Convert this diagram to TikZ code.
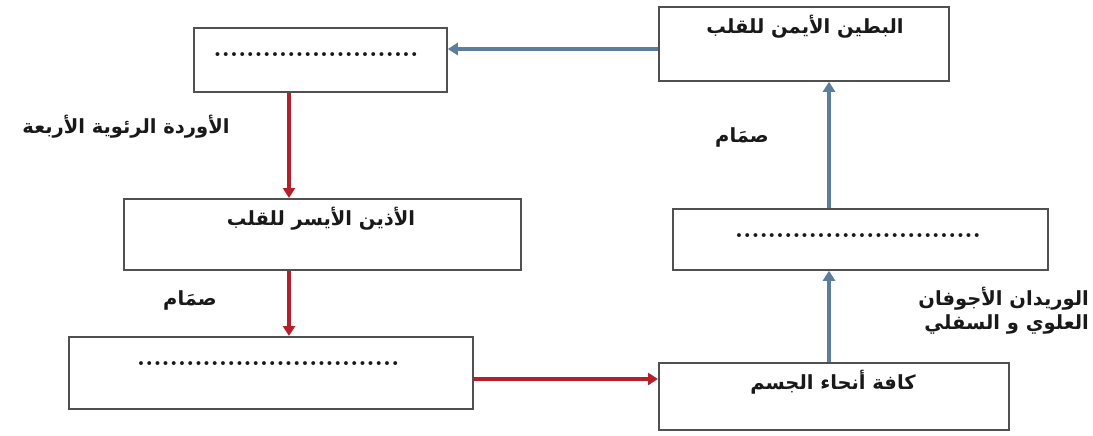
\documentclass[tikz,border=0pt]{standalone}
\usepackage{fontspec}
\usetikzlibrary{arrows.meta,calc}
\TeXXeTstate=1
\newfontfamily\arabicfont[Script=Arabic]{DejaVu Sans}
\definecolor{boxline}{HTML}{505050}
\definecolor{redline}{HTML}{B3202B}
\definecolor{blueline}{HTML}{5A7E9C}
\newcommand{\ar}[1]{{\arabicfont\bfseries\beginR #1\endR}}
\newcommand{\dotrow}[1]{\makebox[#1]{\leaders\hbox to 8.2pt{\hss.\hss}\hfill}}
\tikzset{
  box/.style={draw=boxline, line width=1.8pt, anchor=north west, inner sep=0pt},
  txt/.style={font=\fontsize{19.5}{22}\selectfont, inner sep=0pt, text=black!90},
  dots/.style={font=\fontsize{27}{28}\selectfont\bfseries, inner sep=0pt, text=black!90},
  redarrow/.style={draw=redline, line width=3.4pt, -{Triangle[width=12pt,length=10pt]}},
  bluearrow/.style={draw=blueline, line width=3.4pt, -{Triangle[width=12pt,length=10pt]}}
}
\begin{document}
\begin{tikzpicture}[x=1pt,y=-1pt]
\useasboundingbox[fill=white] (0,0) rectangle (1093,436);
% boxes
\node[box, minimum width=253pt, minimum height=64pt] (A) at (193,27) {};
\node[box, minimum width=290pt, minimum height=74pt] (B) at (658,6) {};
\node[box, minimum width=397pt, minimum height=71pt] (C) at (123,198) {};
\node[box, minimum width=404pt, minimum height=72pt] (D) at (68,336) {};
\node[box, minimum width=350pt, minimum height=67pt] (E) at (658,362) {};
\node[box, minimum width=375pt, minimum height=61pt] (F) at (672,208) {};
% box texts
\node[dots] (At) at (320,55) {\dotrow{213pt}};
\node[txt] (Bt) at (805,27) {\ar{البطين الأيمن للقلب}};
\node[txt] (Ct) at (321,219) {\ar{الأذين الأيسر للقلب}};
\node[dots] (Dt) at (270,364) {\dotrow{266pt}};
\node[txt] (Et) at (833,382) {\ar{كافة أنحاء الجسم}};
\node[dots] (Ft) at (860,236) {\dotrow{250pt}};
% labels
\node[txt] (L1) at (126,127) {\ar{الأوردة الرئوية الأربعة}};
\node[txt] (L2) at (190,300) {\ar{صمَام}};
\node[txt] (L3) at (742,137) {\ar{صمَام}};
\node[txt, anchor=east, align=right] (L4) at (1089,311) {\ar{الوريدان الأجوفان}\\[2pt]\ar{العلوي و السفلي}};
% anchor coordinates for connectors
\coordinate (xl) at (289,0);
\coordinate (xr) at (829,0);
\coordinate (ytop) at (0,49);
\coordinate (ybot) at (0,379);
% connectors
\draw[bluearrow] (B.west |- ytop) -- (A.east |- ytop);
\draw[redarrow] (A.south -| xl) -- (C.north -| xl);
\draw[redarrow] (C.south -| xl) -- (D.north -| xl);
\draw[redarrow] (D.east |- ybot) -- (E.west |- ybot);
\draw[bluearrow] (E.north -| xr) -- (F.south -| xr);
\draw[bluearrow] (F.north -| xr) -- (B.south -| xr);
\end{tikzpicture}
\end{document}
